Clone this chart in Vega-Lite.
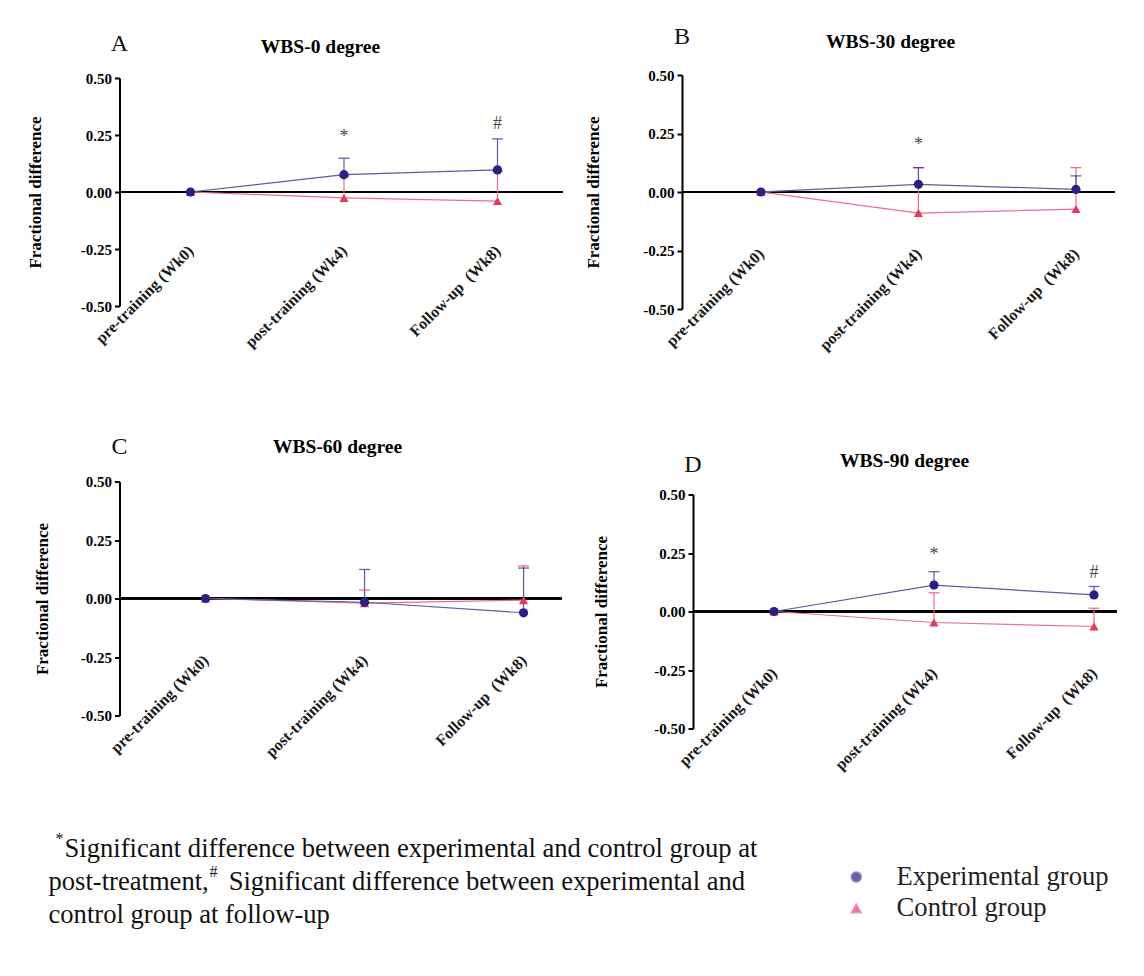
{
  "$schema": "https://vega.github.io/schema/vega-lite/v6.json",
  "background": "white",
  "padding": {"left": 25.5, "top": 25, "right": 0, "bottom": 0},
  "datasets": {
    "series": [
      {"panel": "A", "time": "pre-training (Wk0)", "group": "Control group", "value": 0, "upper": null},
      {"panel": "A", "time": "post-training (Wk4)", "group": "Control group", "value": -0.026, "upper": 0.07},
      {"panel": "A", "time": "Follow-up\u00a0\u00a0(Wk8)", "group": "Control group", "value": -0.04, "upper": 0.09},
      {"panel": "A", "time": "pre-training (Wk0)", "group": "Experimental group", "value": 0, "upper": null},
      {"panel": "A", "time": "post-training (Wk4)", "group": "Experimental group", "value": 0.076, "upper": 0.148},
      {"panel": "A", "time": "Follow-up\u00a0\u00a0(Wk8)", "group": "Experimental group", "value": 0.097, "upper": 0.233},
      {"panel": "B", "time": "pre-training (Wk0)", "group": "Control group", "value": 0, "upper": null},
      {"panel": "B", "time": "post-training (Wk4)", "group": "Control group", "value": -0.09, "upper": 0.104},
      {"panel": "B", "time": "Follow-up\u00a0\u00a0(Wk8)", "group": "Control group", "value": -0.073, "upper": 0.104},
      {"panel": "B", "time": "pre-training (Wk0)", "group": "Experimental group", "value": 0, "upper": null},
      {"panel": "B", "time": "post-training (Wk4)", "group": "Experimental group", "value": 0.033, "upper": 0.104},
      {"panel": "B", "time": "Follow-up\u00a0\u00a0(Wk8)", "group": "Experimental group", "value": 0.011, "upper": 0.069},
      {"panel": "C", "time": "pre-training (Wk0)", "group": "Control group", "value": 0, "upper": null},
      {"panel": "C", "time": "post-training (Wk4)", "group": "Control group", "value": -0.02, "upper": 0.036},
      {"panel": "C", "time": "Follow-up\u00a0\u00a0(Wk8)", "group": "Control group", "value": -0.007, "upper": 0.139},
      {"panel": "C", "time": "pre-training (Wk0)", "group": "Experimental group", "value": 0, "upper": null},
      {"panel": "C", "time": "post-training (Wk4)", "group": "Experimental group", "value": -0.016, "upper": 0.124},
      {"panel": "C", "time": "Follow-up\u00a0\u00a0(Wk8)", "group": "Experimental group", "value": -0.061, "upper": 0.13},
      {"panel": "D", "time": "pre-training (Wk0)", "group": "Control group", "value": 0, "upper": null},
      {"panel": "D", "time": "post-training (Wk4)", "group": "Control group", "value": -0.047, "upper": 0.08},
      {"panel": "D", "time": "Follow-up\u00a0\u00a0(Wk8)", "group": "Control group", "value": -0.064, "upper": 0.014},
      {"panel": "D", "time": "pre-training (Wk0)", "group": "Experimental group", "value": 0, "upper": null},
      {"panel": "D", "time": "post-training (Wk4)", "group": "Experimental group", "value": 0.113, "upper": 0.17},
      {"panel": "D", "time": "Follow-up\u00a0\u00a0(Wk8)", "group": "Experimental group", "value": 0.071, "upper": 0.107}
    ],
    "sig": [
      {"panel": "A", "time": "post-training (Wk4)", "y": 0.243, "sym": "*"},
      {"panel": "A", "time": "Follow-up\u00a0\u00a0(Wk8)", "y": 0.3, "sym": "#"},
      {"panel": "B", "time": "post-training (Wk4)", "y": 0.2, "sym": "*"},
      {"panel": "D", "time": "post-training (Wk4)", "y": 0.243, "sym": "*"},
      {"panel": "D", "time": "Follow-up\u00a0\u00a0(Wk8)", "y": 0.165, "sym": "#"}
    ],
    "panels": [
      {"panel": "A"}, {"panel": "B"}, {"panel": "C"}, {"panel": "D"}
    ],
    "notes": [
      {"line": 1, "text": "Significant difference between experimental and control group at"},
      {"line": 2, "text": "post-treatment,\u00a0\u00a0\u00a0Significant difference between experimental and"},
      {"line": 3, "text": "control group at follow-up"}
    ],
    "supers": [
      {"line": 1, "sym": "*"},
      {"line": 2, "sym": "#"}
    ]
  },
  "spacing": 57.5,
  "vconcat": [
    {
      "spacing": 80.5,
      "vconcat": [
        {
          "spacing": 19.5,
          "hconcat": [
            {
              "width": 443, "height": 231,
              "title": {"text": "WBS-0 degree", "dx": -20.5, "offset": -25},
              "data": {"name": "series"},
              "transform": [{"filter": "datum.panel === 'A'"}],
              "layer": [
                {"mark": {"type": "rule", "color": "#000", "strokeWidth": 2.2}, "encoding": {"y": {"datum": 0, "type": "quantitative", "title": "Fractional difference"}}},
                {"mark": {"type": "line", "strokeWidth": 1.2},
                 "encoding": {
                   "x": {"field": "time", "type": "ordinal", "title": null, "scale": {"type": "point", "domain": ["pre-training (Wk0)", "post-training (Wk4)", "Follow-up\u00a0\u00a0(Wk8)"], "padding": 0.443, "align": 0.522}},
                   "y": {"field": "value", "type": "quantitative", "title": "Fractional difference", "scale": {"domain": [-0.5, 0.5], "range": [231, 3], "nice": false, "zero": false}, "axis": {"values": [-0.5, -0.25, 0, 0.25, 0.5], "format": ".2f", "labelExpr": "replace(datum.label, '\u2212', '-')", "titlePadding": 36}},
                   "stroke": {"field": "group", "type": "nominal", "scale": {"domain": ["Experimental group", "Control group"], "range": ["#5c5ca0", "#e6708a"]}}
                 }},
                {"transform": [{"filter": "datum.upper != null"}], "mark": {"type": "rule", "strokeWidth": 1.2},
                 "encoding": {
                   "x": {"field": "time", "type": "ordinal", "title": null},
                   "y": {"field": "value", "type": "quantitative", "title": "Fractional difference"},
                   "y2": {"field": "upper"},
                   "stroke": {"field": "group", "type": "nominal"}
                 }},
                {"transform": [{"filter": "datum.upper != null"}], "mark": {"type": "tick", "orient": "horizontal", "size": 11, "thickness": 1.3},
                 "encoding": {
                   "x": {"field": "time", "type": "ordinal", "title": null},
                   "y": {"field": "upper", "type": "quantitative", "title": "Fractional difference"},
                   "color": {"field": "group", "type": "nominal"}
                 }},
                {"mark": {"type": "point", "filled": true, "size": 85, "opacity": 1},
                 "encoding": {
                   "x": {"field": "time", "type": "ordinal", "title": null},
                   "y": {"field": "value", "type": "quantitative", "title": "Fractional difference"},
                   "color": {"field": "group", "type": "nominal", "scale": {"domain": ["Experimental group", "Control group"], "range": ["#2c1f84", "#e8365e"]},
                     "legend": {"orient": "none", "legendX": 723.5, "legendY": 788.7, "title": null, "padding": 0, "symbolSize": 100, "symbolOpacity": 1, "labelFontSize": 26.6, "labelColor": "#222", "labelOffset": 27, "rowPadding": 4.4, "labelLimit": 0}},
                   "shape": {"field": "group", "type": "nominal", "scale": {"domain": ["Experimental group", "Control group"], "range": ["circle", "triangle-up"]}}
                 }},
                {"data": {"name": "sig"}, "transform": [{"filter": "datum.panel === 'A'"}],
                 "mark": {"type": "text", "fontSize": 18, "color": "#4a4a4a", "baseline": "middle"},
                 "encoding": {
                   "x": {"field": "time", "type": "ordinal", "title": null},
                   "y": {"field": "y", "type": "quantitative", "title": "Fractional difference"},
                   "text": {"field": "sym"}
                 }},
                {"data": {"name": "panels"}, "transform": [{"filter": "datum.panel === 'A'"}],
                 "mark": {"type": "text", "fontSize": 24, "color": "#111", "align": "center", "baseline": "middle", "dy": -34},
                 "encoding": {"x": {"value": 0}, "y": {"datum": 0.5, "type": "quantitative", "title": "Fractional difference"}, "text": {"field": "panel"}}}
              ]
            },
            {
              "width": 433, "height": 234,
              "title": {"text": "WBS-30 degree", "dx": -8, "offset": -27},
              "data": {"name": "series"},
              "transform": [{"filter": "datum.panel === 'B'"}],
              "layer": [
                {"mark": {"type": "rule", "color": "#000", "strokeWidth": 2.2}, "encoding": {"y": {"datum": 0, "type": "quantitative", "title": "Fractional difference"}}},
                {"mark": {"type": "line", "strokeWidth": 1.2},
                 "encoding": {
                   "x": {"field": "time", "type": "ordinal", "title": null, "scale": {"type": "point", "domain": ["pre-training (Wk0)", "post-training (Wk4)", "Follow-up\u00a0\u00a0(Wk8)"], "padding": 0.3746, "align": 0.669}},
                   "y": {"field": "value", "type": "quantitative", "title": "Fractional difference", "scale": {"domain": [-0.5, 0.5], "nice": false, "zero": false}, "axis": {"values": [-0.5, -0.25, 0, 0.25, 0.5], "format": ".2f", "labelExpr": "replace(datum.label, '\u2212', '-')", "titlePadding": 40}},
                   "stroke": {"field": "group", "type": "nominal"}
                 }},
                {"transform": [{"filter": "datum.upper != null"}], "mark": {"type": "rule", "strokeWidth": 1.2},
                 "encoding": {
                   "x": {"field": "time", "type": "ordinal", "title": null},
                   "y": {"field": "value", "type": "quantitative", "title": "Fractional difference"},
                   "y2": {"field": "upper"},
                   "stroke": {"field": "group", "type": "nominal"}
                 }},
                {"transform": [{"filter": "datum.upper != null"}], "mark": {"type": "tick", "orient": "horizontal", "size": 11, "thickness": 1.3},
                 "encoding": {
                   "x": {"field": "time", "type": "ordinal", "title": null},
                   "y": {"field": "upper", "type": "quantitative", "title": "Fractional difference"},
                   "color": {"field": "group", "type": "nominal"}
                 }},
                {"mark": {"type": "point", "filled": true, "size": 85, "opacity": 1},
                 "encoding": {
                   "x": {"field": "time", "type": "ordinal", "title": null},
                   "y": {"field": "value", "type": "quantitative", "title": "Fractional difference"},
                   "color": {"field": "group", "type": "nominal",
                     "legend": {"orient": "none", "legendX": 723.5, "legendY": 788.7, "title": null, "padding": 0, "symbolSize": 100, "symbolOpacity": 1, "labelFontSize": 26.6, "labelColor": "#222", "labelOffset": 27, "rowPadding": 4.4, "labelLimit": 0}},
                   "shape": {"field": "group", "type": "nominal"}
                 }},
                {"data": {"name": "sig"}, "transform": [{"filter": "datum.panel === 'B'"}],
                 "mark": {"type": "text", "fontSize": 18, "color": "#4a4a4a", "baseline": "middle"},
                 "encoding": {
                   "x": {"field": "time", "type": "ordinal", "title": null},
                   "y": {"field": "y", "type": "quantitative", "title": "Fractional difference"},
                   "text": {"field": "sym"}
                 }},
                {"data": {"name": "panels"}, "transform": [{"filter": "datum.panel === 'B'"}],
                 "mark": {"type": "text", "fontSize": 24, "color": "#111", "align": "center", "baseline": "middle", "dy": -38},
                 "encoding": {"x": {"value": 0}, "y": {"datum": 0.5, "type": "quantitative", "title": "Fractional difference"}, "text": {"field": "panel"}}}
              ]
            }
          ]
        },
        {
          "spacing": 28.5,
          "hconcat": [
            {
              "width": 442, "height": 234,
              "title": {"text": "WBS-60 degree", "dx": -3, "offset": -23},
              "data": {"name": "series"},
              "transform": [{"filter": "datum.panel === 'C'"}],
              "layer": [
                {"mark": {"type": "rule", "color": "#000", "strokeWidth": 2.2}, "encoding": {"y": {"datum": 0, "type": "quantitative", "title": "Fractional difference"}}},
                {"mark": {"type": "line", "strokeWidth": 1.2},
                 "encoding": {
                   "x": {"field": "time", "type": "ordinal", "title": null, "scale": {"type": "point", "domain": ["pre-training (Wk0)", "post-training (Wk4)", "Follow-up\u00a0\u00a0(Wk8)"], "padding": 0.39, "align": 0.694}},
                   "y": {"field": "value", "type": "quantitative", "title": "Fractional difference", "scale": {"domain": [-0.5, 0.5], "nice": false, "zero": false}, "axis": {"values": [-0.5, -0.25, 0, 0.25, 0.5], "format": ".2f", "labelExpr": "replace(datum.label, '\u2212', '-')", "titlePadding": 29}},
                   "stroke": {"field": "group", "type": "nominal"}
                 }},
                {"transform": [{"filter": "datum.upper != null"}], "mark": {"type": "rule", "strokeWidth": 1.2},
                 "encoding": {
                   "x": {"field": "time", "type": "ordinal", "title": null},
                   "y": {"field": "value", "type": "quantitative", "title": "Fractional difference"},
                   "y2": {"field": "upper"},
                   "stroke": {"field": "group", "type": "nominal"}
                 }},
                {"transform": [{"filter": "datum.upper != null"}], "mark": {"type": "tick", "orient": "horizontal", "size": 11, "thickness": 1.3},
                 "encoding": {
                   "x": {"field": "time", "type": "ordinal", "title": null},
                   "y": {"field": "upper", "type": "quantitative", "title": "Fractional difference"},
                   "color": {"field": "group", "type": "nominal"}
                 }},
                {"mark": {"type": "point", "filled": true, "size": 85, "opacity": 1},
                 "encoding": {
                   "x": {"field": "time", "type": "ordinal", "title": null},
                   "y": {"field": "value", "type": "quantitative", "title": "Fractional difference"},
                   "color": {"field": "group", "type": "nominal",
                     "legend": {"orient": "none", "legendX": 723.5, "legendY": 788.7, "title": null, "padding": 0, "symbolSize": 100, "symbolOpacity": 1, "labelFontSize": 26.6, "labelColor": "#222", "labelOffset": 27, "rowPadding": 4.4, "labelLimit": 0}},
                   "shape": {"field": "group", "type": "nominal"}
                 }},
                {"data": {"name": "panels"}, "transform": [{"filter": "datum.panel === 'C'"}],
                 "mark": {"type": "text", "fontSize": 24, "color": "#111", "align": "center", "baseline": "middle", "dy": -35},
                 "encoding": {"x": {"value": 0}, "y": {"datum": 0.5, "type": "quantitative", "title": "Fractional difference"}, "text": {"field": "panel"}}}
              ]
            },
            {
              "width": 424, "height": 247,
              "title": {"text": "WBS-90 degree", "dx": -0.5, "offset": -19},
              "data": {"name": "series"},
              "transform": [{"filter": "datum.panel === 'D'"}],
              "layer": [
                {"mark": {"type": "rule", "color": "#000", "strokeWidth": 2.2}, "encoding": {"y": {"datum": 0, "type": "quantitative", "title": "Fractional difference"}}},
                {"mark": {"type": "line", "strokeWidth": 1.2},
                 "encoding": {
                   "x": {"field": "time", "type": "ordinal", "title": null, "scale": {"type": "point", "domain": ["pre-training (Wk0)", "post-training (Wk4)", "Follow-up\u00a0\u00a0(Wk8)"], "padding": 0.325, "align": 0.779}},
                   "y": {"field": "value", "type": "quantitative", "title": "Fractional difference", "scale": {"domain": [-0.5, 0.5], "range": [247, 13], "nice": false, "zero": false}, "axis": {"values": [-0.5, -0.25, 0, 0.25, 0.5], "format": ".2f", "labelExpr": "replace(datum.label, '\u2212', '-')", "titlePadding": 43}},
                   "stroke": {"field": "group", "type": "nominal"}
                 }},
                {"transform": [{"filter": "datum.upper != null"}], "mark": {"type": "rule", "strokeWidth": 1.2},
                 "encoding": {
                   "x": {"field": "time", "type": "ordinal", "title": null},
                   "y": {"field": "value", "type": "quantitative", "title": "Fractional difference"},
                   "y2": {"field": "upper"},
                   "stroke": {"field": "group", "type": "nominal"}
                 }},
                {"transform": [{"filter": "datum.upper != null"}], "mark": {"type": "tick", "orient": "horizontal", "size": 11, "thickness": 1.3},
                 "encoding": {
                   "x": {"field": "time", "type": "ordinal", "title": null},
                   "y": {"field": "upper", "type": "quantitative", "title": "Fractional difference"},
                   "color": {"field": "group", "type": "nominal"}
                 }},
                {"mark": {"type": "point", "filled": true, "size": 85, "opacity": 1},
                 "encoding": {
                   "x": {"field": "time", "type": "ordinal", "title": null},
                   "y": {"field": "value", "type": "quantitative", "title": "Fractional difference"},
                   "color": {"field": "group", "type": "nominal",
                     "legend": {"orient": "none", "legendX": 723.5, "legendY": 788.7, "title": null, "padding": 0, "symbolSize": 100, "symbolOpacity": 1, "labelFontSize": 26.6, "labelColor": "#222", "labelOffset": 27, "rowPadding": 4.4, "labelLimit": 0}},
                   "shape": {"field": "group", "type": "nominal"}
                 }},
                {"data": {"name": "sig"}, "transform": [{"filter": "datum.panel === 'D'"}],
                 "mark": {"type": "text", "fontSize": 18, "color": "#4a4a4a", "baseline": "middle"},
                 "encoding": {
                   "x": {"field": "time", "type": "ordinal", "title": null},
                   "y": {"field": "y", "type": "quantitative", "title": "Fractional difference"},
                   "text": {"field": "sym"}
                 }},
                {"data": {"name": "panels"}, "transform": [{"filter": "datum.panel === 'D'"}],
                 "mark": {"type": "text", "fontSize": 24, "color": "#111", "align": "center", "baseline": "middle", "dy": -30},
                 "encoding": {"x": {"value": 0}, "y": {"datum": 0.5, "type": "quantitative", "title": "Fractional difference"}, "text": {"field": "panel"}}}
              ]
            }
          ]
        }
      ]
    },
    {
      "width": 720, "height": 66,
      "layer": [
        {"data": {"name": "notes"}, "transform": [{"filter": "datum.line === 1"}],
         "mark": {"type": "text", "align": "left", "baseline": "middle", "fontSize": 26.6, "color": "#111", "dx": -55},
         "encoding": {
           "x": {"datum": 0, "type": "quantitative", "scale": {"domain": [0, 1]}, "axis": null},
           "y": {"field": "line", "type": "ordinal", "scale": {"type": "point", "padding": 0, "domain": [1, 2, 3]}, "axis": null},
           "text": {"field": "text"}
         }},
        {"data": {"name": "notes"}, "transform": [{"filter": "datum.line !== 1"}],
         "mark": {"type": "text", "align": "left", "baseline": "middle", "fontSize": 26.6, "color": "#111", "dx": -71},
         "encoding": {
           "x": {"datum": 0, "type": "quantitative"},
           "y": {"field": "line", "type": "ordinal"},
           "text": {"field": "text"}
         }},
        {"data": {"name": "supers"}, "transform": [{"filter": "datum.line === 1"}],
         "mark": {"type": "text", "align": "left", "baseline": "middle", "fontSize": 16, "color": "#111", "dx": -64, "dy": -10},
         "encoding": {
           "x": {"datum": 0, "type": "quantitative"},
           "y": {"field": "line", "type": "ordinal"},
           "text": {"field": "sym"}
         }},
        {"data": {"name": "supers"}, "transform": [{"filter": "datum.line === 2"}],
         "mark": {"type": "text", "align": "left", "baseline": "middle", "fontSize": 16, "color": "#111", "dx": 90, "dy": -10},
         "encoding": {
           "x": {"datum": 0, "type": "quantitative"},
           "y": {"field": "line", "type": "ordinal"},
           "text": {"field": "sym"}
         }}
      ]
    }
  ],
  "config": {
    "font": "Liberation Serif",
    "view": {"stroke": null},
    "axisX": {"domain": false, "ticks": false, "labelAngle": -45, "labelAlign": "right", "labelBaseline": "middle", "labelPadding": -58, "labelFontWeight": "bold", "labelFontSize": 16, "labelColor": "#1a1a1a", "labelOverlap": false, "labelLimit": 0, "labelBound": false, "grid": false},
    "axisY": {"grid": false, "domainColor": "#000", "domainWidth": 2, "tickColor": "#000", "tickWidth": 2, "tickSize": 5, "labelPadding": 3, "labelFontWeight": "bold", "labelFontSize": 15, "labelColor": "#000", "titleFontWeight": "bold", "titleFontSize": 17, "titleColor": "#000"},
    "title": {"fontSize": 19.5, "fontWeight": "bold", "color": "#000", "frame": "group", "anchor": "middle"}
  }
}
